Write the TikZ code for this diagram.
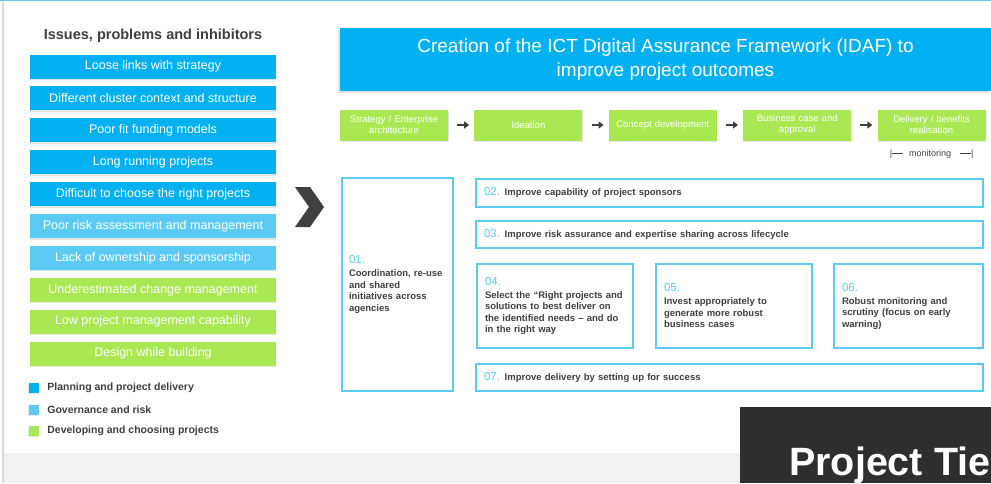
\documentclass[tikz,border=0pt]{standalone}
\usepackage{fontspec}
\setmainfont{Liberation Sans}
\usepackage{xcolor}
\usepackage{tikz}
\usetikzlibrary{shapes,arrows.meta,positioning,calc,shadows}
\definecolor{planblue}{RGB}{0,176,240}
\definecolor{govblue}{RGB}{91,203,245}
\definecolor{devgreen}{RGB}{169,232,82}
\definecolor{textgrey}{RGB}{64,64,64}
\definecolor{bandgrey}{RGB}{241,241,241}
\definecolor{framegrey}{RGB}{217,217,217}
\definecolor{tierdark}{RGB}{46,46,46}
\newcommand{\goalnum}[1]{{\color{govblue}\mdseries\fontsize{11.5}{13}\selectfont #1}}

\begin{document}
\begin{tikzpicture}[x=1pt, y=-1pt,
        issue/.style={rectangle, minimum width=246pt, minimum height=24pt,
                    inner sep=0pt, text=white, font=\fontsize{12.5}{14}\selectfont,
                    drop shadow={shadow xshift=-0.5pt, shadow yshift=-1.5pt, opacity=0.2}},
        stage/.style={rectangle, fill=devgreen, minimum width=108pt, minimum height=31pt,
                    text width=100pt, align=center, inner sep=0pt, text=white,
                    font=\fontsize{9.5}{11}\selectfont,
                    drop shadow={shadow xshift=0.5pt, shadow yshift=-1.5pt, opacity=0.2}},
        goal/.style={rectangle, draw=govblue, line width=2pt, fill=white, align=left,
                    inner sep=0pt, text=textgrey, font=\bfseries\fontsize{9.5}{11.5}\selectfont},
        arrow/.style={->, line width=2.5pt, >={Triangle[length=5pt, width=7pt]}, draw=textgrey},
        legsq/.style={rectangle, minimum size=10pt, inner sep=0pt,
                    drop shadow={shadow xshift=-1pt, shadow yshift=-1pt, opacity=0.2}},
        legtext/.style={font=\bfseries\fontsize{10.5}{12}\selectfont, text=textgrey,
                    inner sep=0pt}]

        % page frame
        \useasboundingbox (0,0) rectangle (991,483);
        \fill[white] (0,0) rectangle (991,483);
        \fill[bandgrey] (4,453) rectangle (991,483);
        \draw[line width=1.5pt, draw=framegrey] (3,0) -- (3,483);
        \draw[line width=1pt, draw=govblue] (0,0.5) -- (991,0.5);

        % issues column
        \node[font=\bfseries\fontsize{14.5}{17}\selectfont, text=textgrey] (title) at (153,36)
            {Issues, problems and inhibitors};
        \node[issue, fill=planblue] (i1) at (153,66.5) {Loose links with strategy};
        \node[issue, fill=planblue, below=7.5pt of i1] (i2) {Different cluster context and structure};
        \node[issue, fill=planblue, below=7.5pt of i2] (i3) {Poor fit funding models};
        \node[issue, fill=planblue, below=7.5pt of i3] (i4) {Long running projects};
        \node[issue, fill=planblue, below=7.5pt of i4] (i5) {Difficult to choose the right projects};
        \node[issue, fill=govblue, below=7.5pt of i5] (i6) {Poor risk assessment and management};
        \node[issue, fill=govblue, below=7.5pt of i6] (i7) {Lack of ownership and sponsorship};
        \node[issue, fill=devgreen, below=7.5pt of i7] (i8) {Underestimated change management};
        \node[issue, fill=devgreen, below=7.5pt of i8] (i9) {Low project management capability};
        \node[issue, fill=devgreen, below=7.5pt of i9] (i10) {Design while building};

        % legend
        \node[legsq, fill=planblue] (l1) at (34,388) {};
        \node[legtext, right=8pt of l1] (lt1) {Planning and project delivery};
        \node[legsq, fill=govblue] (l2) at (34,410) {};
        \node[legtext, right=8pt of l2] (lt2) {Governance and risk};
        \node[legsq, fill=devgreen] (l3) at (34,431) {};
        \node[legtext, right=8pt of l3] (lt3) {Developing and choosing projects};

        % chevron
        \fill[textgrey] (295,187) -- (310,187) -- (324,207) -- (310,227)
            -- (295,227) -- (309,207) -- cycle;

        % heading
        \node[rectangle, fill=planblue, minimum width=651pt, minimum height=63pt,
            inner sep=0pt, align=center, text=white, font=\fontsize{19}{24}\selectfont,
            drop shadow={shadow xshift=-2pt, shadow yshift=-2pt, opacity=0.25}]
            (head) at (665.5,59.5)
            {Creation of the ICT Digital Assurance Framework (IDAF) to\\improve project outcomes};

        % lifecycle stages
        \node[stage] (s1) at (394,125) {Strategy / Enterprise\\architecture};
        \node[stage, right=26pt of s1] (s2) {Ideation};
        \node[stage, right=26pt of s2] (s3) {Concept development};
        \node[stage, right=26pt of s3] (s4) {Business case and\\approval};
        \node[stage, right=26pt of s4] (s5) {Delivery / benefits\\realisation};

        \draw[arrow, shorten <=9pt, shorten >=5pt] (s1) -- (s2);
        \draw[arrow, shorten <=9pt, shorten >=5pt] (s2) -- (s3);
        \draw[arrow, shorten <=9pt, shorten >=5pt] (s3) -- (s4);
        \draw[arrow, shorten <=9pt, shorten >=5pt] (s4) -- (s5);

        \node[font=\fontsize{9}{10}\selectfont, text=textgrey, inner sep=0pt, below=9pt of s5]
            (mon) {|\rule[2.6pt]{11pt}{0.5pt}\hspace{6pt}monitoring\hspace{9pt}\rule[2.6pt]{11pt}{0.5pt}|};

        % improvement goals
        \node[goal, minimum width=111pt, minimum height=213pt, text width=97pt] (g1) at (397.5,284.5)
            {\goalnum{01.}\\[1.5pt]Coordination, re-use\\and shared\\initiatives across\\agencies};
        \node[goal, minimum width=507pt, minimum height=28pt, text width=491pt] (g2) at (729.5,192.5)
            {\goalnum{02.} Improve capability of project sponsors};
        \node[goal, minimum width=507pt, minimum height=27pt, text width=491pt] (g3) at (729.5,234)
            {\goalnum{03.} Improve risk assurance and expertise sharing across lifecycle};
        \node[goal, minimum width=156pt, minimum height=84pt, text width=140pt] (g4) at (555,306)
            {\goalnum{04.}\\[1.5pt]Select the “Right projects and\\solutions to best deliver on\\the identified needs – and do\\in the right way};
        \node[goal, minimum width=156pt, minimum height=84pt, text width=140pt, right=21pt of g4] (g5)
            {\goalnum{05.}\\[1.5pt]Invest appropriately to\\generate more robust\\business cases};
        \node[goal, minimum width=149pt, minimum height=84pt, text width=133pt, right=20pt of g5] (g6)
            {\goalnum{06.}\\[1.5pt]Robust monitoring and\\scrutiny (focus on early\\warning)};
        \node[goal, minimum width=507pt, minimum height=27pt, text width=491pt] (g7) at (729.5,377.5)
            {\goalnum{07.} Improve delivery by setting up for success};

        % footer panel
        \fill[tierdark] (740,407) rectangle (991,483);
        \node[anchor=base west, inner sep=0pt, text=white, font=\bfseries\fontsize{39.5}{40}\selectfont]
            (tier) at (789,475) {Project Tie};

    \end{tikzpicture}
\end{document}
